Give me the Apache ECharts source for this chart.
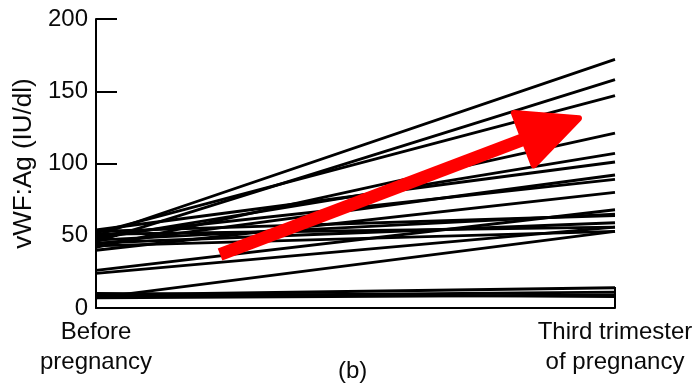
<!DOCTYPE html>
<html>
<head>
<meta charset="utf-8">
<script src="https://cdn.jsdelivr.net/npm/echarts@6/dist/echarts.min.js"></script>
<style>html,body{margin:0;padding:0;background:#fff}#c{width:700px;height:386px}</style>
</head>
<body>
<div id="c"></div>
<script>
// Time points (x categories)
var timeLabels = ['Before\npregnancy', 'Third trimester\nof pregnancy'];
// vWF:Ag (IU/dl) for each subject
var beforeValues = [50, 46, 52, 42, 48, 54, 44, 50, 40, 26, 47, 53, 45, 24, 51, 7, 43, 9, 8, 10, 7];
var thirdValues  = [172, 158, 147, 121, 107, 101, 92, 89, 80, 68, 65, 64, 59, 56, 56, 53, 53, 14, 11, 8, 9];
// y-axis ticks
var yTicks = [0, 50, 100, 150, 200];
// Arrow annotation in data space [x position (0..1), value]
var arrowTail = [0.239, 37];
var arrowTip = [0.936, 132];

var series = [];
for (var i = 0; i < beforeValues.length; i++) {
  series.push({
    type: 'line',
    data: [[0, beforeValues[i]], [1, thirdValues[i]]],
    symbol: 'none',
    silent: true,
    animation: false,
    lineStyle: { color: '#000', width: 2.9 }
  });
}

var chart = echarts.init(document.getElementById('c'), null, { renderer: 'canvas' });
var font = '"Liberation Sans", Arial, Helvetica, sans-serif';
chart.setOption({
  animation: false,
  backgroundColor: '#fff',
  grid: { left: 96, right: 85, top: 19, bottom: 78 },
  xAxis: {
    type: 'value', min: 0, max: 1, interval: 1,
    axisLine: { show: true, lineStyle: { color: '#000', width: 2 } },
    axisTick: { show: true, inside: true, length: 21, lineStyle: { color: '#000', width: 2 } },
    splitLine: { show: false },
    axisLabel: {
      color: '#0a0a0a', fontFamily: font, fontSize: 24, lineHeight: 30, margin: 9,
      formatter: function (v) { return timeLabels[Math.round(v)]; }
    }
  },
  yAxis: {
    type: 'value', min: yTicks[0], max: yTicks[yTicks.length - 1], interval: 50,
    name: 'vWF:Ag (IU/dl)', nameLocation: 'middle', nameGap: 52,
    nameTextStyle: { color: '#0a0a0a', fontFamily: font, fontSize: 26 },
    axisLine: { show: true, lineStyle: { color: '#000', width: 2 } },
    axisTick: { show: true, inside: true, length: 21, lineStyle: { color: '#000', width: 2 } },
    splitLine: { show: false },
    axisLabel: { color: '#0a0a0a', fontFamily: font, fontSize: 24, margin: 8 }
  },
  series: series
});

function drawArrow() {
  var t = chart.convertToPixel({ gridIndex: 0 }, arrowTail);
  var p = chart.convertToPixel({ gridIndex: 0 }, arrowTip);
  var dx = p[0] - t[0], dy = p[1] - t[1];
  var L = Math.sqrt(dx * dx + dy * dy);
  var ux = dx / L, uy = dy / L, nx = -uy, ny = ux;
  var headLen = 62, headHalf = 28, shaft = 6.5;
  var bx = p[0] - ux * headLen, by = p[1] - uy * headLen;
  var sx = p[0] - ux * (headLen - 10), sy = p[1] - uy * (headLen - 10);
  chart.setOption({
    graphic: [
      {
        type: 'polygon', silent: true, z: 100,
        shape: { points: [
          [t[0] + nx * shaft, t[1] + ny * shaft],
          [sx + nx * shaft, sy + ny * shaft],
          [sx - nx * shaft, sy - ny * shaft],
          [t[0] - nx * shaft, t[1] - ny * shaft]
        ] },
        style: { fill: '#ff0000' }
      },
      {
        type: 'polygon', silent: true, z: 101,
        shape: { points: [
          [p[0] - ux * 3, p[1] - uy * 3],
          [bx + nx * headHalf, by + ny * headHalf],
          [bx - nx * headHalf, by - ny * headHalf]
        ] },
        style: { fill: '#ff0000', stroke: '#ff0000', lineWidth: 6, lineJoin: 'round' }
      },
      {
        type: 'text', silent: true, left: 338, top: 359,
        style: { text: '(b)', fill: '#0a0a0a', font: '24px ' + font }
      }
    ]
  });
}
drawArrow();
</script>
</body>
</html>
